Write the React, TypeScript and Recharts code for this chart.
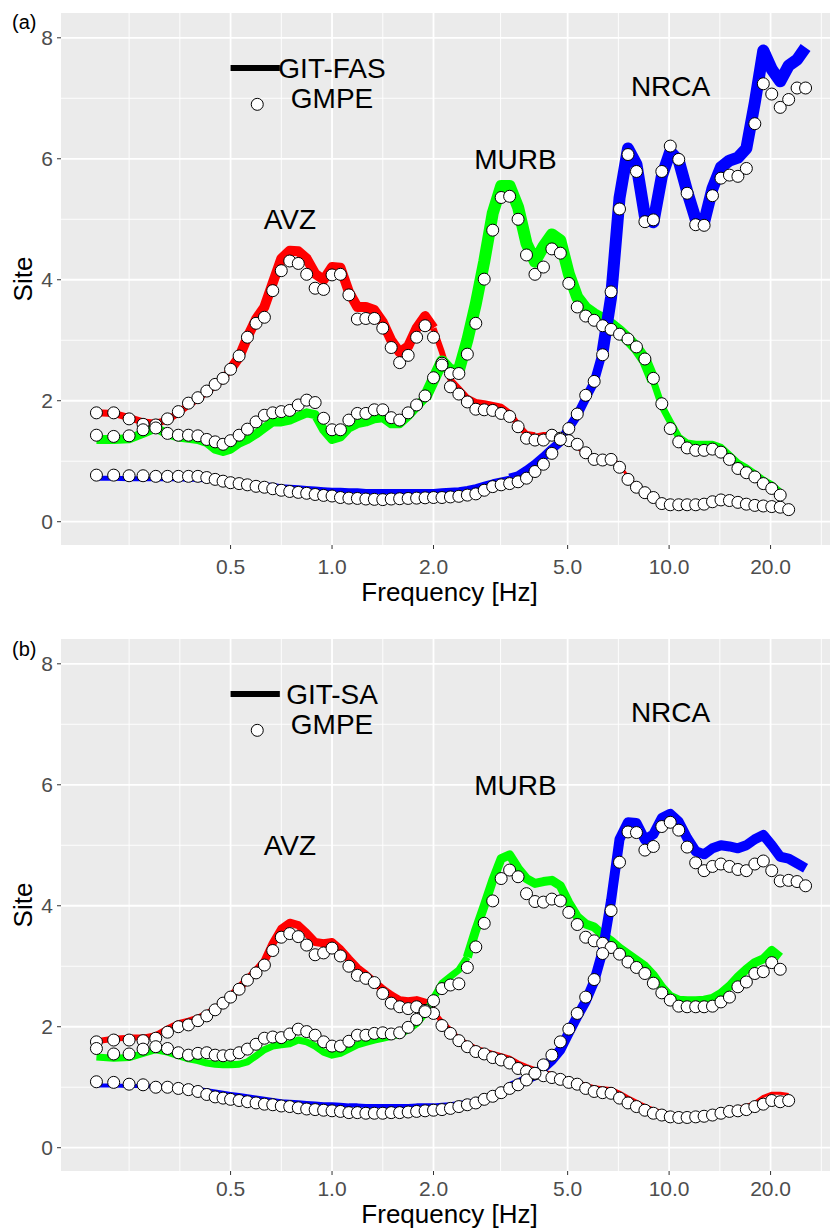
import React from 'react';
import { ComposedChart, Line, XAxis, YAxis, CartesianGrid, ReferenceLine, ReferenceDot } from 'recharts';

const FONT = '"Liberation Sans", Arial, Helvetica, sans-serif';

// Frequencies [Hz]
const FREQ = [0.2,0.225,0.25,0.275,0.3,0.325,0.35,0.375,0.4,0.425,0.45,0.475,0.5,0.53,0.561,0.595,0.63,0.667,0.707,0.749,0.794,0.841,0.891,0.944,1.0,1.059,1.122,1.189,1.26,1.335,1.414,1.498,1.587,1.682,1.782,1.888,2.0,2.119,2.245,2.378,2.52,2.67,2.828,2.997,3.175,3.364,3.564,3.775,4.0,4.238,4.49,4.757,5.04,5.339,5.657,5.993,6.35,6.727,7.127,7.551,8.0,8.476,8.98,9.514,10.08,10.68,11.31,11.99,12.7,13.45,14.25,15.1,16.0,16.95,17.96,19.03,20.16,21.36,22.63,23.97,25.4];

const X_TICKS = [0.5, 1, 2, 5, 10, 20];
const X_MINOR = [0.25, 0.3536, 0.7071, 1.4142, 3.1623, 7.0711, 14.142, 28.284];
const Y_TICKS = [0, 2, 4, 6, 8];
const Y_MINOR = [1, 3, 5, 7];

// Panel (a): GIT-FAS vs GMPE
const A_AVZ_GIT = [1.80,1.79,1.72,1.65,1.63,1.68,1.80,1.93,2.03,2.15, 2.25,2.37,2.52,2.72,3.05,3.35,3.55,3.95,4.35,4.48, 4.47,4.35,4.10,4.00,4.21,4.20,3.80,3.55,3.55,3.50, 3.30,3.00,2.80,2.90,3.20,3.40,3.20,2.80,2.35,2.20, 2.05,1.98,1.96,1.93,1.90,1.80,1.60,1.45,1.43,1.46, 1.46,1.42,1.31,1.22,1.12,1.05,1.05,1.06,0.95,0.74, 0.59,0.49,0.41,0.33,0.29,0.29,0.29,0.30,0.32,0.36, 0.39,0.39,0.36,0.33,0.30,0.29,0.28,0.26,0.23,null, null];
const A_AVZ_GMPE = [1.80,1.80,1.70,1.61,1.60,1.70,1.82,1.96,2.05,2.16, 2.27,2.37,2.52,2.74,3.05,3.28,3.38,3.82,4.15,4.31, 4.27,4.09,3.86,3.84,4.08,4.09,3.75,3.35,3.36,3.36, 3.20,2.88,2.63,2.75,3.05,3.24,3.05,2.62,2.23,2.11, 1.98,1.86,1.85,1.84,1.79,1.74,1.57,1.38,1.35,1.35, 1.43,1.38,1.34,1.28,1.14,1.03,1.02,1.03,0.90,0.70, 0.57,0.48,0.40,0.30,0.28,0.28,0.28,0.28,0.29,0.33, 0.36,0.35,0.32,0.29,0.27,0.26,0.25,0.24,0.20,null, null];
const A_MURB_GIT = [1.36,1.36,1.37,1.46,1.55,1.45,1.40,1.38,1.36,1.31, 1.20,1.16,1.20,1.30,1.36,1.45,1.55,1.65,1.65,1.68, 1.74,1.80,1.77,1.52,1.36,1.40,1.55,1.62,1.65,1.70, 1.72,1.62,1.62,1.75,1.90,2.05,2.35,2.65,2.50,2.50, 3.00,3.60,4.30,5.10,5.55,5.55,5.20,4.60,4.30,4.55, 4.75,4.65,4.10,3.71,3.53,3.43,3.35,3.26,3.15,3.02, 2.87,2.67,2.33,1.91,1.65,1.40,1.30,1.28,1.28,1.28, 1.23,1.10,0.97,0.89,0.79,0.69,0.61,0.49,null,null, null];
const A_MURB_GMPE = [1.43,1.41,1.42,1.52,1.55,1.46,1.43,1.43,1.42,1.36, 1.32,1.28,1.34,1.43,1.53,1.65,1.76,1.80,1.82,1.84, 1.93,2.01,1.97,1.71,1.52,1.52,1.68,1.79,1.79,1.85, 1.85,1.72,1.68,1.80,1.93,2.08,2.38,2.59,2.45,2.45, 2.77,3.28,4.01,4.82,5.36,5.38,5.00,4.41,4.09,4.21, 4.51,4.44,3.94,3.55,3.40,3.33,3.24,3.18,3.10,3.02, 2.89,2.69,2.37,1.95,1.54,1.32,1.22,1.18,1.18,1.20, 1.15,1.03,0.88,0.81,0.74,0.63,0.55,0.44,null,null, null];
const A_NRCA_GIT = [0.72,0.72,0.71,0.71,0.71,0.71,0.71,0.70,0.70,0.69, 0.68,0.67,0.66,0.65,0.64,0.62,0.61,0.60,0.58,0.57, 0.56,0.55,0.54,0.53,0.52,0.52,0.51,0.51,0.50,0.50, 0.50,0.50,0.50,0.50,0.50,0.50,0.50,0.51,0.52,0.53, 0.55,0.58,0.62,0.66,0.69,0.72,0.76,0.85,0.95,1.07, 1.20,1.32,1.55,1.76,2.04,2.31,2.81,3.71,5.35,6.17, 5.91,5.05,4.95,5.71,6.12,5.97,5.46,5.00,4.95,5.51, 5.86,5.97,6.02,6.17,6.93,7.79,7.48,7.28,7.54,7.64, 7.84];
const A_NRCA_GMPE = [0.77,0.77,0.76,0.76,0.75,0.75,0.75,0.75,0.75,0.73, 0.70,0.67,0.645,0.63,0.61,0.585,0.57,0.545,0.52,0.50, 0.485,0.47,0.45,0.435,0.425,0.40,0.39,0.385,0.375,0.37, 0.365,0.375,0.38,0.385,0.39,0.395,0.40,0.40,0.41,0.42, 0.44,0.46,0.52,0.58,0.61,0.63,0.66,0.72,0.83,0.95, 1.13,1.36,1.54,1.78,2.09,2.32,2.76,3.80,5.17,6.07, 5.79,4.96,4.99,5.79,6.21,5.99,5.43,4.91,4.90,5.39, 5.68,5.73,5.71,5.84,6.58,7.24,7.07,6.85,6.98,7.17, 7.17];

// Panel (b): GIT-SA vs GMPE
const B_AVZ_GIT = [1.76,1.80,1.82,1.82,1.86,1.97,2.06,2.10,2.15,2.22, 2.30,2.40,2.50,2.64,2.78,2.92,3.08,3.38,3.62,3.72, 3.68,3.55,3.40,3.38,3.40,3.28,3.12,2.97,2.86,2.74, 2.62,2.52,2.44,2.42,2.44,2.40,2.25,2.08,1.95,1.80, 1.72,1.65,1.60,1.56,1.52,1.48,1.40,1.34,1.29,1.25, 1.21,1.17,1.13,1.09,1.05,1.01,0.99,0.98,0.92,0.84, 0.77,0.70,0.64,0.60,0.57,0.55,0.54,0.55,0.56,0.58, 0.61,0.64,0.67,0.70,0.75,0.85,0.90,0.90,0.88,null, null];
const B_AVZ_GMPE = [1.75,1.78,1.78,1.77,1.81,1.91,2.00,2.03,2.10,2.18, 2.28,2.39,2.49,2.62,2.77,2.89,3.02,3.26,3.48,3.54, 3.49,3.35,3.19,3.22,3.30,3.17,3.00,2.85,2.80,2.73, 2.55,2.39,2.33,2.30,2.33,2.27,2.22,2.02,1.89,1.77, 1.67,1.59,1.55,1.49,1.45,1.40,1.31,1.26,1.22,1.19, 1.16,1.13,1.08,1.05,0.98,0.93,0.91,0.90,0.82,0.74, 0.68,0.62,0.57,0.54,0.51,0.50,0.50,0.51,0.52,0.54, 0.57,0.60,0.61,0.63,0.68,0.72,0.78,0.76,0.78,null, null];
const B_MURB_GIT = [1.50,1.48,1.49,1.56,1.62,1.58,1.52,1.47,1.44,1.40, 1.38,1.37,1.37,1.38,1.42,1.52,1.62,1.68,1.70,1.72, 1.78,1.75,1.68,1.58,1.53,1.56,1.63,1.70,1.74,1.78, 1.81,1.84,1.87,1.95,2.05,2.22,2.47,2.72,2.83,2.94, 3.15,3.60,4.00,4.42,4.78,4.84,4.62,4.45,4.37,4.40, 4.42,4.33,4.05,3.82,3.70,3.65,3.52,3.42,3.30,3.20, 3.10,3.00,2.85,2.65,2.50,2.44,2.43,2.43,2.44,2.47, 2.55,2.67,2.82,2.95,3.06,3.12,3.26,3.15,null,null, null];
const B_MURB_GMPE = [1.64,1.55,1.55,1.63,1.67,1.64,1.57,1.53,1.56,1.57, 1.53,1.52,1.53,1.57,1.63,1.71,1.81,1.83,1.82,1.88, 1.96,1.92,1.86,1.75,1.68,1.68,1.76,1.86,1.86,1.89, 1.90,1.88,1.90,1.99,2.12,2.25,2.43,2.63,2.69,2.71, 2.98,3.32,3.71,4.08,4.45,4.59,4.48,4.20,4.07,4.06, 4.11,4.08,3.89,3.69,3.48,3.42,3.38,3.31,3.20,3.07, 2.98,2.88,2.72,2.56,2.44,2.34,2.33,2.33,2.33,2.34, 2.41,2.49,2.66,2.74,2.88,2.91,3.06,2.95,null,null, null];
const B_NRCA_GIT = [1.03,1.03,1.02,1.02,1.01,1.01,1.00,0.99,0.97,0.95, 0.93,0.91,0.89,0.87,0.85,0.83,0.81,0.79,0.77,0.76, 0.75,0.74,0.73,0.72,0.72,0.71,0.70,0.70,0.69,0.69, 0.69,0.69,0.69,0.69,0.70,0.70,0.70,0.71,0.72,0.74, 0.76,0.79,0.83,0.89,0.95,1.00,1.06,1.13,1.20,1.32, 1.45,1.62,1.90,2.17,2.42,2.75,3.25,4.09,5.10,5.38, 5.37,5.09,5.18,5.45,5.52,5.39,5.12,4.90,4.85,4.95, 5.00,4.98,4.95,5.00,5.10,5.17,5.00,4.81,4.78,4.70, 4.62];
const B_NRCA_GMPE = [1.09,1.08,1.05,1.04,1.00,1.00,0.98,0.96,0.93,0.88, 0.84,0.82,0.80,0.78,0.76,0.74,0.72,0.71,0.69,0.68, 0.66,0.64,0.63,0.62,0.61,0.60,0.58,0.58,0.57,0.57, 0.57,0.58,0.58,0.59,0.60,0.61,0.62,0.63,0.65,0.68, 0.71,0.74,0.80,0.85,0.91,0.98,1.04,1.12,1.23,1.37, 1.53,1.75,1.96,2.22,2.49,2.78,3.21,3.92,4.72,5.22, 5.21,4.92,4.98,5.31,5.38,5.25,4.97,4.71,4.58,4.65, 4.69,4.65,4.60,4.58,4.69,4.74,4.58,4.41,4.42,4.40, 4.33];

const SITE_NAMES = ['AVZ', 'MURB', 'NRCA'];
const SITE_COLORS = ['#FF0000', '#00FF00', '#0000FF'];

// line widths by index range [from, to, width] (style, kept apart from data)
const A_SEGMENTS = [
  [[0, 12, 7], [12, 36, 10], [36, 48, 6], [48, 78, 3]],
  [[0, 35, 9], [35, 62, 12], [62, 77, 7]],
  [[0, 45, 5], [45, 56, 9], [56, 80, 12]],
];
const B_SEGMENTS = [
  [[0, 12, 6], [12, 36, 8], [36, 50, 5], [50, 78, 3]],
  [[0, 40, 7], [40, 77, 9]],
  [[0, 45, 4], [45, 80, 10]],
];

const NOTE_POS = [
  { name: 'AVZ', x: 0.75, y: 5.0 },
  { name: 'MURB', x: 3.5, y: 6.0 },
  { name: 'NRCA', x: 10.1, y: 7.2 },
];

function buildRows(git: (number | null)[][], gmpe: (number | null)[][], segs: number[][][]) {
  return FREQ.map((f, i) => {
    const row: any = { f };
    git.forEach((arr, s) => {
      segs[s].forEach((sg, j) => {
        row[`g${s}_${j}`] = i >= sg[0] && i <= sg[1] ? arr[i] : null;
      });
      row[`p${s}`] = gmpe[s][i];
    });
    return row;
  });
}

const ROWS_A = buildRows([A_AVZ_GIT, A_MURB_GIT, A_NRCA_GIT], [A_AVZ_GMPE, A_MURB_GMPE, A_NRCA_GMPE], A_SEGMENTS);
const ROWS_B = buildRows([B_AVZ_GIT, B_MURB_GIT, B_NRCA_GIT], [B_AVZ_GMPE, B_MURB_GMPE, B_NRCA_GMPE], B_SEGMENTS);

const SiteLabel = (props: any) => {
  const vb = props.viewBox || { x: 0, y: 13, width: 61, height: 532 };
  const cx = vb.x + 23;
  const cy = vb.y + vb.height / 2;
  return (
    <text x={cx} y={cy} transform={`rotate(-90 ${cx} ${cy})`} textAnchor="middle" dy="0.35em" fontSize={26} fontFamily={FONT} fill="#000">
      Site
    </text>
  );
};

function Panel({ rows, segs, legendText, titleOffset, tickGap }: { rows: any[]; segs: number[][][]; legendText: string; titleOffset: number; tickGap: number }) {
  const lines: React.ReactNode[] = [];
  segs.forEach((siteSegs, s) => {
    siteSegs.forEach((sg, j) => {
      lines.push(
        <Line
          key={`g${s}_${j}`}
          dataKey={`g${s}_${j}`}
          type="linear"
          stroke={SITE_COLORS[s]}
          strokeWidth={sg[2]}
          strokeLinejoin="round"
          strokeLinecap="butt"
          dot={false}
          activeDot={false}
          isAnimationActive={false}
          connectNulls={false}
          legendType="none"
        />
      );
    });
  });
  const dots = SITE_NAMES.map((n, s) => (
    <Line
      key={`p${s}`}
      dataKey={`p${s}`}
      type="linear"
      stroke="none"
      strokeWidth={0}
      dot={{ r: 6, fill: '#FFFFFF', stroke: '#000000', strokeWidth: 1 }}
      activeDot={false}
      isAnimationActive={false}
      legendType="none"
    />
  ));
  return (
    <ComposedChart width={845} height={615} data={rows} margin={{ top: 13, right: 7, bottom: 0, left: 0 }}>
      <CartesianGrid fill="#EBEBEB" stroke="#FFFFFF" strokeWidth={0.9} horizontalValues={Y_MINOR} verticalValues={X_MINOR} />
      <CartesianGrid stroke="#FFFFFF" strokeWidth={1.8} horizontalValues={Y_TICKS} verticalValues={X_TICKS} />
      <XAxis
        dataKey="f"
        type="number"
        scale="log"
        domain={[0.157, 31.7]}
        allowDataOverflow
        ticks={X_TICKS}
        interval={0}
        tickFormatter={(v: number) => v.toFixed(1)}
        axisLine={false}
        tickLine={{ stroke: '#333333', strokeWidth: 1 }}
        tickSize={4}
        tickMargin={tickGap}
        tick={{ fill: '#4D4D4D', fontSize: 21, fontFamily: FONT }}
        height={70}
        label={{ value: 'Frequency [Hz]', position: 'insideBottom', offset: titleOffset, fontSize: 26, fill: '#000000', fontFamily: FONT }}
      />
      <YAxis
        type="number"
        domain={[-0.385, 8.41]}
        allowDataOverflow
        ticks={Y_TICKS}
        interval={0}
        axisLine={false}
        tickLine={{ stroke: '#333333', strokeWidth: 1 }}
        tickSize={4}
        tickMargin={4}
        tick={{ fill: '#4D4D4D', fontSize: 21, fontFamily: FONT }}
        width={61}
        label={SiteLabel}
      />
      {lines}
      {dots}
      <ReferenceLine segment={[{ x: 0.5, y: 7.5 }, { x: 0.7, y: 7.5 }]} stroke="#000000" strokeWidth={6} />
      <ReferenceDot x={0.6} y={6.9} r={6} fill="#FFFFFF" stroke="#000000" strokeWidth={1} />
      <ReferenceDot x={1.0} y={7.5} r={0} fill="none" stroke="none"
        label={{ value: legendText, position: 'center', fontSize: 28, fill: '#000000', fontFamily: FONT }} />
      <ReferenceDot x={1.0} y={7.0} r={0} fill="none" stroke="none"
        label={{ value: 'GMPE', position: 'center', fontSize: 28, fill: '#000000', fontFamily: FONT }} />
      {NOTE_POS.map((n) => (
        <ReferenceDot key={n.name} x={n.x} y={n.y} r={0} fill="none" stroke="none"
          label={{ value: n.name, position: 'center', fontSize: 28, fill: '#000000', fontFamily: FONT }} />
      ))}
    </ComposedChart>
  );
}

const tagStyle: React.CSSProperties = {
  position: 'absolute',
  left: 12,
  fontSize: 20,
  lineHeight: '20px',
  fontFamily: FONT,
  color: '#000',
};

export default function App() {
  return (
    <div style={{ position: 'absolute', left: 0, top: 0, width: 830, height: 1230, overflow: 'hidden', background: '#FFFFFF' }}>
      <div style={{ position: 'absolute', left: 0, top: 0 }}>
        <Panel rows={ROWS_A} segs={A_SEGMENTS} legendText="GIT-FAS" titleOffset={14} tickGap={10} />
      </div>
      <div style={{ position: 'absolute', left: 0, top: 626 }}>
        <Panel rows={ROWS_B} segs={B_SEGMENTS} legendText="GIT-SA" titleOffset={18} tickGap={6} />
      </div>
      <div style={{ ...tagStyle, top: 12 }}>(a)</div>
      <div style={{ ...tagStyle, top: 639 }}>(b)</div>
    </div>
  );
}
